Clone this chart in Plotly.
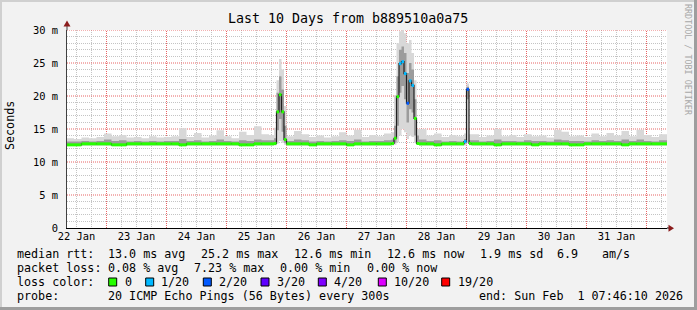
import plotly.graph_objects as go
import pandas as pd

# ---------------- data ----------------
START = pd.Timestamp("2026-01-22 08:12:00")
SPAN_H = 240

# start hour of each rrd bin (relative to 2026-01-22 08:00)
BIN_ORIGIN = pd.Timestamp("2026-01-22 08:00:00")
bin_hours = [
    0, 3, 6, 9, 12, 15, 18, 21, 24, 27, 30, 33, 36, 39, 42, 45, 48, 51, 54, 57, 60, 63, 66, 69, 72, 75, 78, 81,
    83, 84, 85, 86, 87,
    88, 91, 94, 97, 100, 103, 106, 109, 112, 115, 118, 121, 124, 127,
    130, 131, 132, 133, 134, 135, 136, 137, 138, 139, 140,
    141, 144, 147, 150, 153, 156,
    159, 160, 161,
    162, 165, 168, 171, 174, 177, 180, 183, 186, 189, 192, 195, 198, 201, 204, 207, 210, 213, 216, 219, 222, 225,
    228, 231, 234, 237,
]

median_ms = [
    12.6, 12.6, 12.75, 12.75, 12.75, 12.75, 12.6, 12.6, 12.75, 12.75, 12.75, 12.75, 12.75, 12.75, 12.75, 12.6,
    12.75, 12.75, 12.75, 12.75, 12.75, 12.75, 12.75, 12.6, 12.6, 12.75, 12.75, 12.75,
    12.8, 17.6, 20.2, 17.6, 13.4,
    12.75, 12.75, 12.75, 12.6, 12.75, 12.75, 12.75, 12.75, 12.6, 12.75, 12.75, 12.75, 12.75, 12.75,
    12.8, 13.6, 19.9, 24.9, 25.2, 23.4, 18.9, 22.3, 21.6, 16.6, 12.8,
    12.75, 12.75, 12.6, 12.75, 12.75, 12.75,
    13.1, 21.0, 12.8,
    12.75, 12.75, 12.75, 12.6, 12.75, 12.75, 12.75, 12.75, 12.6, 12.75, 12.75, 12.75, 12.75, 12.6, 12.6, 12.75,
    12.75, 12.75, 12.75, 12.75, 12.6, 12.75, 12.75, 12.75, 12.75, 12.75,
]

# lost pings out of 20 per bin
loss_of20 = [
    0, 0, 0, 0, 0, 0, 0, 0, 0, 0, 0, 0, 0, 0, 0, 0, 0, 0, 0, 0, 0, 0, 0, 0, 0, 0, 0, 0,
    0, 0, 0, 0, 0,
    0, 0, 0, 0, 0, 0, 0, 0, 0, 0, 0, 0, 0, 0,
    0, 0, 0, 1, 1, 1, 2, 1, 1, 0, 0,
    0, 0, 0, 0, 0, 0,
    1, 2, 0,
    0, 0, 0, 0, 0, 0, 0, 0, 0, 0, 0, 0, 0, 0, 0, 0, 0, 0, 0, 0, 0, 0, 0, 0, 0, 0,
]

smoke_min_ms = [
    12.45, 12.45, 12.45, 12.45, 12.45, 12.45, 12.45, 12.45, 12.45, 12.45, 12.45, 12.45, 12.45, 12.45, 12.45, 12.45,
    12.45, 12.45, 12.45, 12.45, 12.45, 12.45, 12.45, 12.45, 12.45, 12.45, 12.45, 12.45,
    12.5, 12.8, 13.2, 12.9, 12.6,
    12.45, 12.45, 12.45, 12.45, 12.45, 12.45, 12.45, 12.45, 12.45, 12.45, 12.45, 12.45, 12.45, 12.45,
    12.5, 12.6, 13.0, 14.0, 15.0, 14.5, 13.5, 14.0, 13.8, 12.9, 12.6,
    12.45, 12.45, 12.45, 12.45, 12.45, 12.45,
    12.5, 13.0, 12.5,
    12.45, 12.45, 12.45, 12.45, 12.45, 12.45, 12.45, 12.45, 12.45, 12.45, 12.45, 12.45, 12.45, 12.45, 12.45, 12.45,
    12.45, 12.45, 12.45, 12.45, 12.45, 12.45, 12.45, 12.45, 12.45, 12.45,
]

smoke_lo_ms = [
    12.65, 12.65, 12.65, 12.65, 12.65, 12.65, 12.65, 12.65, 12.65, 12.65, 12.65, 12.65, 12.65, 12.65, 12.65, 12.65,
    12.65, 12.65, 12.65, 12.65, 12.65, 12.65, 12.65, 12.65, 12.65, 12.65, 12.65, 12.65,
    12.7, 14.8, 16.5, 14.6, 12.9,
    12.65, 12.65, 12.65, 12.65, 12.65, 12.65, 12.65, 12.65, 12.65, 12.65, 12.65, 12.65, 12.65, 12.65,
    12.7, 12.9, 15.5, 20.5, 21.5, 19.5, 16.0, 18.0, 17.5, 14.0, 12.8,
    12.65, 12.65, 12.65, 12.65, 12.65, 12.65,
    12.8, 19.5, 12.7,
    12.65, 12.65, 12.65, 12.65, 12.65, 12.65, 12.65, 12.65, 12.65, 12.65, 12.65, 12.65, 12.65, 12.65, 12.65, 12.65,
    12.65, 12.65, 12.65, 12.65, 12.65, 12.65, 12.65, 12.65, 12.65, 12.65,
]

smoke_hi_ms = [
    13.1, 13.1, 13.2, 13.1, 13.2, 13.4, 13.2, 13.3, 13.1, 13.2, 13.1, 13.2, 13.1, 13.2, 13.2, 13.5,
    13.2, 13.3, 13.1, 13.2, 13.4, 13.2, 13.1, 13.3, 13.2, 13.4, 13.3, 13.3,
    13.6, 20.5, 23.0, 21.0, 15.5,
    13.2, 13.4, 13.3, 13.1, 13.2, 13.1, 13.2, 13.3, 13.2, 13.4, 13.1, 13.2, 13.2, 13.3,
    13.4, 15.5, 23.0, 27.0, 27.5, 26.5, 23.5, 25.0, 24.0, 19.5, 14.0,
    13.4, 13.2, 13.3, 13.1, 13.2, 13.1,
    13.5, 21.4, 13.3,
    13.3, 13.1, 13.2, 13.4, 13.2, 13.2, 13.1, 13.3, 13.2, 13.2, 13.1, 13.4, 13.3, 13.2, 13.2, 13.1,
    13.3, 13.2, 13.3, 13.2, 13.4, 13.2, 13.4, 13.2, 13.1, 13.3,
]

smoke_max_ms = [
    13.6, 13.5, 13.7, 13.6, 13.8, 14.3, 13.9, 14.1, 13.7, 13.8, 13.6, 13.9, 13.7, 13.8, 13.9, 15.1,
    13.8, 14.4, 13.7, 14.0, 14.8, 13.9, 13.6, 14.6, 14.1, 15.4, 14.2, 14.1,
    15.2, 22.4, 25.6, 24.0, 18.5,
    13.9, 14.7, 14.2, 13.8, 14.0, 13.7, 13.9, 14.5, 14.0, 14.9, 13.8, 14.1, 13.9, 14.3,
    14.5, 20.1, 28.0, 29.8, 30.0, 29.5, 28.0, 28.5, 26.5, 22.4, 15.0,
    15.0, 14.0, 14.3, 13.8, 14.1, 13.9,
    14.3, 21.9, 14.2,
    14.2, 13.8, 14.0, 15.0, 13.9, 14.1, 13.8, 14.2, 13.9, 14.0, 13.7, 14.9, 14.6, 13.9, 14.0, 13.8,
    14.3, 13.9, 14.4, 14.0, 14.7, 13.9, 14.9, 14.1, 13.8, 14.2,
]

day_labels = ["22 Jan", "23 Jan", "24 Jan", "25 Jan", "26 Jan", "27 Jan", "28 Jan", "29 Jan", "30 Jan", "31 Jan"]
y_tick_vals = [0, 5, 10, 15, 20, 25, 30]
y_tick_text = ["0", "5 m", "10 m", "15 m", "20 m", "25 m", "30 m"]

loss_levels = [0, 1, 2, 3, 4, 10, 19]
loss_labels = ["0", "1/20", "2/20", "3/20", "4/20", "10/20", "19/20"]
loss_colors = ["#26ff00", "#00b8ff", "#0059ff", "#5e00ff", "#7e00ff", "#dd00ff", "#ff0000"]

title_text = "Last 10 Days from b889510a0a75"
rtt_texts = ["median rtt:", "13.0 ms avg", "25.2 ms max", "12.6 ms min", "12.6 ms now", "1.9 ms sd", "6.9", "am/s"]
loss_texts = ["packet loss:", "0.08 % avg", "7.23 % max", "0.00 % min", "0.00 % now"]
probe_texts = ["probe:", "20 ICMP Echo Pings (56 Bytes) every 300s", "end: Sun Feb  1 07:46:10 2026"]

# ---------------- helpers ----------------
L, R, T, B = 67, 30, 30, 82
W, H = 697, 310
PW, PH = W - L - R, H - T - B


def px_x(px):
    return (px - L) / PW


def px_y(py):
    return (H - B - py) / PH


def nb(s):
    return s.replace(" ", "\u00a0")


times = [BIN_ORIGIN + pd.Timedelta(hours=h) for h in bin_hours]
end_time = START + pd.Timedelta(hours=SPAN_H)
times_step = times + [end_time]


def step(vals):
    return list(vals) + [vals[-1]]


MONO = "DejaVu Sans Mono"
GRID_MAJ = "#e86464"
GRID_MIN = "#c4c4c4"
DASH = "1px,1px"

noon_ticks = [pd.Timestamp("2026-01-22 12:00") + pd.Timedelta(days=i) for i in range(len(day_labels))]
midnights = [pd.Timestamp("2026-01-23 00:00") + pd.Timedelta(days=i) for i in range(10)]
# grid positions: minor every 6 h / 1 ms, skipping the major ones
x_minor = [pd.Timestamp("2026-01-22 06:00") + pd.Timedelta(hours=6 * k) for k in range(42)]
x_minor = [t for t in x_minor if t.hour != 0]
y_minor = [v for v in range(0, 31) if v % 5 != 0]

fig = go.Figure()

# major grid (red dotted) as a line trace under everything
gx, gy = [], []
for t in midnights:
    gx += [t, t, None]
    gy += [0, 30, None]
for v in y_tick_vals[1:]:
    gx += [START, end_time, None]
    gy += [v, v, None]
fig.add_trace(go.Scatter(x=gx, y=gy, mode="lines", line=dict(color=GRID_MAJ, width=1, dash=DASH),
                         hoverinfo="skip", showlegend=False))

# smoke: outer band
fig.add_trace(go.Scatter(x=times_step, y=step(smoke_min_ms), mode="lines", line=dict(width=0, shape="hv"),
                         hoverinfo="skip", showlegend=False))
fig.add_trace(go.Scatter(x=times_step, y=step(smoke_max_ms), mode="lines", line=dict(width=0, shape="hv"),
                         fill="tonexty", fillcolor="#d8d8d8", hoverinfo="skip", showlegend=False))
# smoke: inner band
fig.add_trace(go.Scatter(x=times_step, y=step(smoke_lo_ms), mode="lines", line=dict(width=0, shape="hv"),
                         hoverinfo="skip", showlegend=False))
fig.add_trace(go.Scatter(x=times_step, y=step(smoke_hi_ms), mode="lines", line=dict(width=0, shape="hv"),
                         fill="tonexty", fillcolor="#9c9c9c", hoverinfo="skip", showlegend=False))
# median connecting line
fig.add_trace(go.Scatter(x=times_step, y=step(median_ms), mode="lines", line=dict(width=1.2, color="#202020", shape="hv"),
                         hoverinfo="skip", showlegend=False))


def loss_color(v):
    for lvl, c in zip(loss_levels, loss_colors):
        if v <= lvl:
            return c
    return loss_colors[-1]


segs = {}
for i, m in enumerate(median_ms):
    c = loss_color(loss_of20[i])
    xs, ys = segs.setdefault(c, ([], []))
    xs += [times_step[i], times_step[i + 1], None]
    ys += [m, m, None]
for c, (xs, ys) in segs.items():
    fig.add_trace(go.Scatter(x=xs, y=ys, mode="lines", line=dict(width=3, color=c),
                             hoverinfo="skip", showlegend=False))

# dummy trace to carry the label axis
fig.add_trace(go.Scatter(x=[START, end_time], y=[0, 0], xaxis="x2", mode="lines",
                         line=dict(width=0), opacity=0, hoverinfo="skip", showlegend=False))

fig.update_layout(
    width=W, height=H,
    margin=dict(l=L, r=R, t=T, b=B, pad=0),
    paper_bgcolor="#f2f2f2",
    plot_bgcolor="#ffffff",
    showlegend=False,
    xaxis=dict(
        type="date", range=[START, end_time],
        tickmode="array", tickvals=midnights,
        showgrid=False,
        minor=dict(tickmode="array", tickvals=x_minor, showgrid=True,
                   gridcolor=GRID_MIN, griddash=DASH, gridwidth=1),
        showticklabels=False, ticks="",
        showline=True, linecolor="#000000", linewidth=1,
        zeroline=False, fixedrange=True,
    ),
    xaxis2=dict(
        type="date", range=[START, end_time], overlaying="x", anchor="y", side="bottom",
        tickmode="array", tickvals=noon_ticks, ticktext=day_labels,
        showgrid=False, showline=False, zeroline=False, ticks="",
        tickfont=dict(family=MONO, size=10.4, color="#000000"),
        ticklabelstandoff=1, fixedrange=True,
    ),
    yaxis=dict(
        range=[0, 30],
        tickmode="array", tickvals=y_tick_vals, ticktext=y_tick_text,
        showgrid=False,
        minor=dict(tickmode="array", tickvals=y_minor, showgrid=True,
                   gridcolor=GRID_MIN, griddash=DASH, gridwidth=1),
        ticks="", showline=True, linecolor="#404040", linewidth=1,
        zeroline=False,
        tickfont=dict(family=MONO, size=10.4, color="#000000"),
        ticklabelstandoff=6, fixedrange=True,
    ),
)

shapes = []
# frame
shapes.append(dict(type="rect", xref="paper", yref="paper", x0=px_x(0), x1=px_x(W), y0=px_y(0), y1=px_y(2),
                   fillcolor="#d0d0d0", line=dict(width=0), layer="below"))
shapes.append(dict(type="rect", xref="paper", yref="paper", x0=px_x(0), x1=px_x(2), y0=px_y(0), y1=px_y(H),
                   fillcolor="#d0d0d0", line=dict(width=0), layer="below"))
shapes.append(dict(type="rect", xref="paper", yref="paper", x0=px_x(0), x1=px_x(W), y0=px_y(H - 3), y1=px_y(H),
                   fillcolor="#9e9e9e", line=dict(width=0), layer="below"))
shapes.append(dict(type="rect", xref="paper", yref="paper", x0=px_x(W - 3), x1=px_x(W), y0=px_y(0), y1=px_y(H),
                   fillcolor="#9e9e9e", line=dict(width=0), layer="below"))
# axis extensions + arrows
shapes.append(dict(type="line", xref="paper", yref="paper", x0=0, x1=0, y0=1, y1=px_y(25),
                   line=dict(color="#404040", width=1)))
shapes.append(dict(type="line", xref="paper", yref="paper", x0=1, x1=px_x(670), y0=0, y1=0,
                   line=dict(color="#000000", width=1)))
shapes.append(dict(type="path", xref="paper", yref="paper",
                   path=f"M {px_x(63.5)},{px_y(26.5)} L {px_x(70.5)},{px_y(26.5)} L {px_x(67)},{px_y(20.5)} Z",
                   fillcolor="#8b1c1c", line=dict(width=0)))
shapes.append(dict(type="path", xref="paper", yref="paper",
                   path=f"M {px_x(668.5)},{px_y(224.8)} L {px_x(668.5)},{px_y(231.8)} L {px_x(674)},{px_y(228.3)} Z",
                   fillcolor="#8b1c1c", line=dict(width=0)))

annotations = []
annotations.append(dict(text=nb(title_text), xref="paper", yref="paper", x=px_x(347.5), y=px_y(19),
                        xanchor="center", yanchor="middle", showarrow=False,
                        font=dict(family=MONO, size=13.3, color="#000000")))
annotations.append(dict(text="Seconds", xref="paper", yref="paper", x=px_x(10), y=px_y(126),
                        xanchor="center", yanchor="middle", showarrow=False, textangle=-90,
                        font=dict(family=MONO, size=11.7, color="#000000")))
annotations.append(dict(text=nb("RRDTOOL / TOBI OETIKER"), xref="paper", yref="paper", x=px_x(688), y=px_y(60),
                        xanchor="center", yanchor="middle", showarrow=False, textangle=90,
                        font=dict(family=MONO, size=8.4, color="#a8a8a8")))

LEG_FONT = dict(family=MONO, size=11.7, color="#000000")


def add_row(texts, xs, yc):
    for t, x in zip(texts, xs):
        annotations.append(dict(text=nb(t), xref="paper", yref="paper", x=px_x(x - 1), y=px_y(yc),
                                xanchor="left", yanchor="middle", showarrow=False, font=LEG_FONT))


add_row(rtt_texts, [16, 107.3, 200, 293.3, 386, 479.3, 556, 601], 254)
add_row(loss_texts, [16, 107.3, 193, 279.3, 365.5], 268)
add_row(["loss color:"], [16], 282)
add_row(probe_texts, [16, 107.3, 478.3], 296)

sq_x = [108.7, 145.7, 203.3, 261, 318.3, 378.3, 441.7]
lab_x = [124, 160, 218.3, 276, 333.3, 392.7, 457.3]
for sx, lx, lab, col in zip(sq_x, lab_x, loss_labels, loss_colors):
    shapes.append(dict(type="rect", xref="paper", yref="paper", x0=px_x(sx), x1=px_x(sx + 8),
                       y0=px_y(278), y1=px_y(286), fillcolor=col, line=dict(color="#000000", width=1)))
    annotations.append(dict(text=nb(lab), xref="paper", yref="paper", x=px_x(lx - 1), y=px_y(282),
                            xanchor="left", yanchor="middle", showarrow=False, font=LEG_FONT))

fig.update_layout(shapes=shapes, annotations=annotations)
fig.write_html("out.html")
